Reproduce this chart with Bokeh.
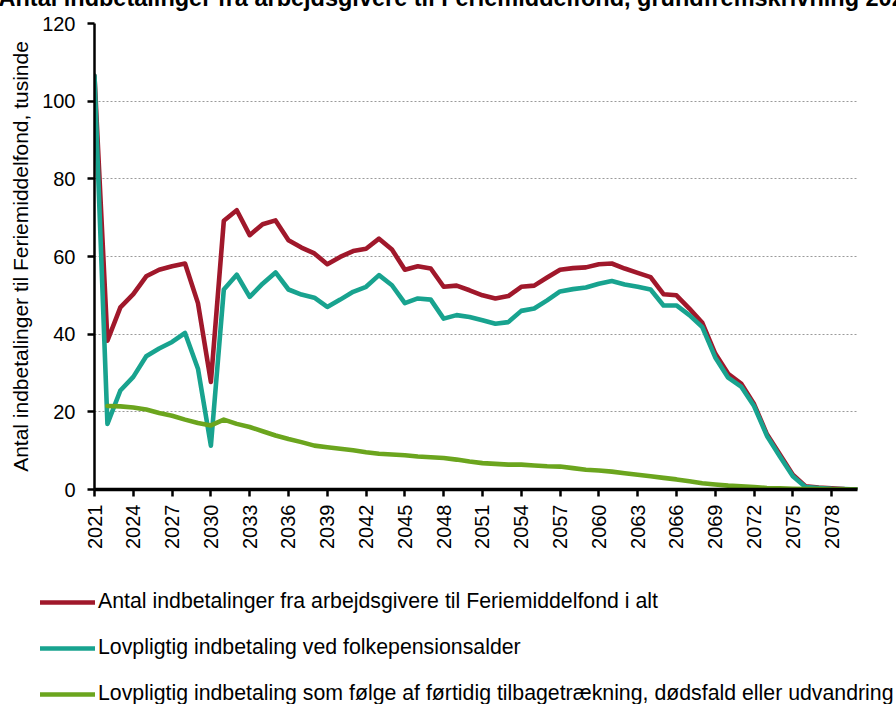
import math
from bokeh.plotting import figure
from bokeh.layouts import column
from bokeh.models import Range1d, FixedTicker, Legend, LegendItem, Title
from bokeh.embed import file_html
from bokeh.resources import INLINE

nan = float("nan")

years = list(range(2021, 2081))

total = [106.5, 38.3, 46.9, 50.3, 54.9, 56.6, 57.5, 58.2, 48.0, 27.7,
         69.2, 71.9, 65.5, 68.3, 69.3, 64.2, 62.3, 60.8, 58.0, 59.9,
         61.4, 62.0, 64.6, 61.8, 56.6, 57.5, 56.9, 52.2, 52.5, 51.3,
         50.0, 49.2, 49.8, 52.2, 52.5, 54.6, 56.6, 57.0, 57.2, 58.0,
         58.2, 56.9, 55.8, 54.7, 50.3, 50.0, 46.6, 42.9, 35.0, 29.8,
         27.3, 22.0, 14.2, 9.0, 3.8, 0.8, 0.5, 0.3, 0.1, 0.0]

folkepension = [106.5, 16.9, 25.5, 29.0, 34.3, 36.3, 38.0, 40.3, 31.1, 11.3,
                51.5, 55.3, 49.6, 53.0, 55.9, 51.5, 50.2, 49.4, 47.0, 48.9,
                50.9, 52.2, 55.2, 52.6, 48.0, 49.2, 48.9, 44.0, 44.9, 44.4,
                43.6, 42.7, 43.1, 46.0, 46.6, 48.7, 51.0, 51.6, 52.0, 53.0,
                53.7, 52.8, 52.2, 51.5, 47.4, 47.4, 44.9, 41.8, 34.0, 28.8,
                26.5, 21.5, 13.8, 8.5, 3.4, 0.6, 0.4, 0.2, 0.1, 0.0]

foertidig = [nan, 21.5, 21.4, 21.1, 20.6, 19.7, 19.0, 18.0, 17.1, 16.5,
             18.0, 16.9, 16.1, 15.0, 13.9, 13.0, 12.2, 11.3, 10.9, 10.5,
             10.1, 9.6, 9.2, 9.0, 8.8, 8.5, 8.3, 8.1, 7.7, 7.2,
             6.8, 6.6, 6.4, 6.4, 6.2, 6.0, 5.9, 5.5, 5.1, 4.9,
             4.6, 4.2, 3.8, 3.4, 3.0, 2.6, 2.1, 1.6, 1.3, 1.0,
             0.8, 0.6, 0.4, 0.3, 0.2, 0.1, 0.1, 0.05, 0.02, 0.0]

series = [total, folkepension, foertidig]
series_labels = [
    "Antal indbetalinger fra arbejdsgivere til Feriemiddelfond i alt",
    "Lovpligtig indbetaling ved folkepensionsalder",
    "Lovpligtig indbetaling som følge af førtidig tilbagetrækning, dødsfald eller udvandring",
]
series_colors = ["#A0182B", "#18A38F", "#6BA51E"]

x_ticks = list(range(2021, 2079, 3))
y_ticks = [0, 20, 40, 60, 80, 100, 120]

title_text = "Antal indbetalinger fra arbejdsgivere til Feriemiddelfond, grundfremskrivning 2021-2080"
y_label = "Antal indbetalinger til Feriemiddelfond, tusinde"

FONT = "Liberation Sans"
SHIFT = 30          # the page is pulled up so the title's top half is cut off, as in the reference
CHART_H = 560       # visible height of the chart part
LEGEND_H = 144      # height of the legend strip below it

p = figure(width=896, height=CHART_H + SHIFT, output_backend="svg", toolbar_location=None,
           x_range=Range1d(2021, 2080), y_range=Range1d(0, 120),
           min_border_left=94, min_border_right=39, min_border_top=23 + SHIFT,
           min_border_bottom=CHART_H - 489)
p.frame_align = False
p.outline_line_color = None
p.background_fill_color = "white"
p.border_fill_color = "white"

p.xgrid.grid_line_color = None
p.ygrid.grid_line_color = "#9a9a9a"
p.ygrid.grid_line_width = 1
p.ygrid.grid_line_dash = "2 2"

p.xaxis.ticker = FixedTicker(ticks=x_ticks)
p.yaxis.ticker = FixedTicker(ticks=y_ticks)

for ax in (p.xaxis, p.yaxis):
    ax.axis_line_color = "black"
    ax.major_tick_line_color = "black"
    ax.major_tick_line_width = 2.5
    ax.major_tick_in = 0
    ax.major_tick_out = 7
    ax.minor_tick_line_color = None
    ax.major_label_text_font = FONT
    ax.major_label_text_font_size = "20px"
    ax.major_label_text_color = "black"

p.xaxis.axis_line_width = 3.5
p.yaxis.axis_line_width = 2.5
p.xaxis.major_label_orientation = math.pi / 2
p.xaxis.major_label_standoff = 8
p.yaxis.major_label_standoff = 12

p.yaxis.axis_label = y_label
p.yaxis.axis_label_text_font = FONT
p.yaxis.axis_label_text_font_size = "21px"
p.yaxis.axis_label_text_font_style = "normal"
p.yaxis.axis_label_text_color = "black"
p.yaxis.axis_label_standoff = 7

for vals, col in zip(series, series_colors):
    p.line(years, vals, line_color=col, line_width=4.6, line_join="round", line_cap="round")

title = Title(text=title_text, align="left", vertical_align="top", offset=-96, standoff=22,
              text_font=FONT, text_font_size="23.5px", text_font_style="bold", text_color="black")
p.add_layout(title, "above")

# legend strip: the same series, drawn outside its (empty) view, only to key the legend
q = figure(width=896, height=LEGEND_H, output_backend="svg", toolbar_location=None,
           x_range=Range1d(2021, 2080), y_range=Range1d(500, 600),
           x_axis_location=None, y_axis_location=None,
           min_border_left=0, min_border_right=0, min_border_top=0, min_border_bottom=0)
q.frame_align = False
q.outline_line_color = None
q.grid.grid_line_color = None
q.background_fill_color = "white"
q.border_fill_color = "white"

legend_renderers = [q.line(years, vals, line_color=col, line_width=4.6, line_cap="round")
                    for vals, col in zip(series, series_colors)]
legend = Legend(items=[LegendItem(label=lab, renderers=[r]) for lab, r in zip(series_labels, legend_renderers)],
                location=(40, -2), orientation="vertical",
                padding=0, margin=0, spacing=21,
                glyph_width=55, glyph_height=24, label_height=24, label_standoff=3,
                label_text_font=FONT, label_text_font_size="21.3px", label_text_color="black",
                border_line_color=None, background_fill_alpha=0)
q.add_layout(legend)

layout = column(p, q, spacing=0)
layout.styles = {"margin-top": f"-{SHIFT}px"}

open("out.html", "w").write(file_html(layout, INLINE))
